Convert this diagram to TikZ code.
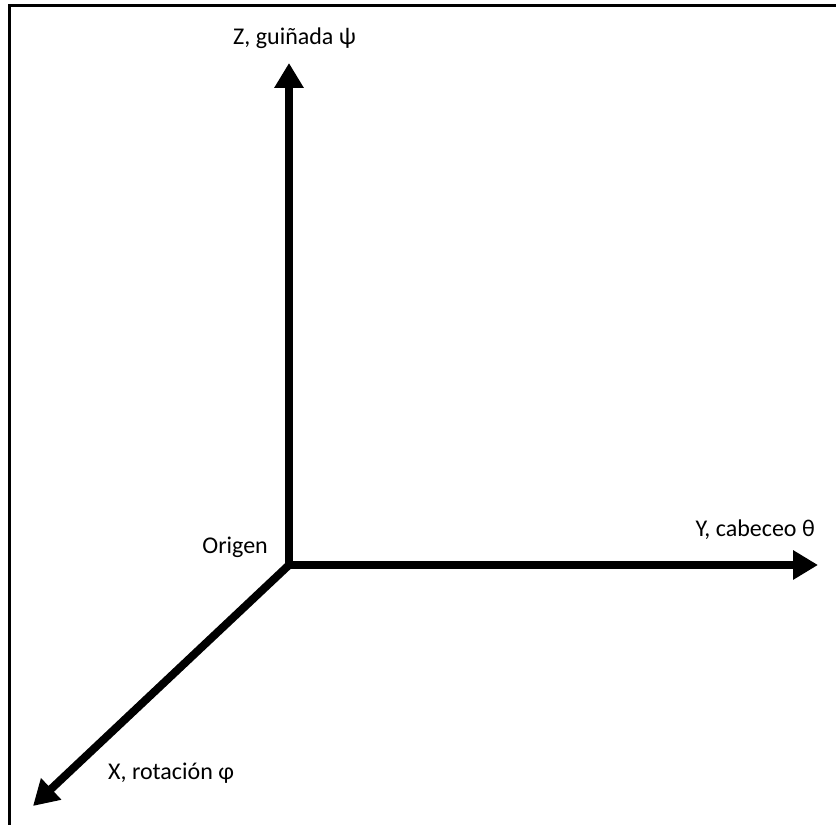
\documentclass[tikz,border=0pt]{standalone}
\usepackage{fontspec}
\setmainfont{Carlito}
\usetikzlibrary{arrows.meta}
\begin{document}
\begin{tikzpicture}[x=1pt,y=1pt,
  axis/.style={line width=8pt,-{Triangle[length=25pt,width=28pt]}},
  lbl/.style={font=\fontsize{24}{27}\selectfont,inner sep=0pt}]
\useasboundingbox (0,0) rectangle (836,825);
\fill[white] (0,0) rectangle (836,825);
\draw[line width=3pt] (9,0) -- (9,819) -- (836,819);
\coordinate (O) at (289,260);
\coordinate (Z) at (289,762);
\coordinate (Y) at (818,260);
\coordinate (X) at (33,19);
\draw[axis] (O) -- (Z);
\draw[axis] (O) -- (Y);
\draw[axis,shorten <=-2pt] (O) -- (X);
\node[lbl,anchor=west] (zl) at (233,787) {Z, guiñada ψ};
\node[lbl,anchor=east] (yl) at (815,295) {Y, cabeceo θ};
\node[lbl,anchor=east] (ol) at (268,278) {Origen};
\node[lbl,anchor=west] (xl) at (108,52) {X, rotación φ};
\end{tikzpicture}
\end{document}
